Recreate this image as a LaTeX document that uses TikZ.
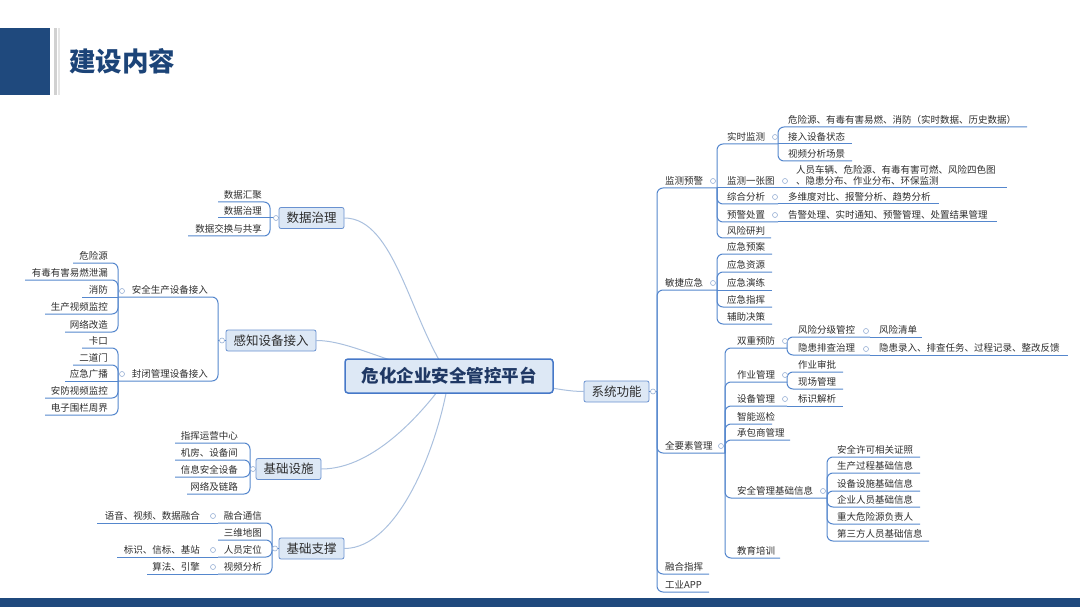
\documentclass[tikz,border=0pt]{standalone}
\usepackage{fontspec}
\setmainfont{Noto Sans CJK SC}
\usepackage{tikz}
\usepackage{xcolor}
\usetikzlibrary{backgrounds}
\definecolor{bar_blue}{RGB}{31, 73, 125}
\definecolor{title_blue}{RGB}{28, 68, 120}
\definecolor{box_fill}{RGB}{221, 232, 245}
\definecolor{box_line}{RGB}{105, 145, 208}
\definecolor{root_line}{RGB}{70, 120, 200}
\definecolor{root_text}{RGB}{31, 56, 100}
\definecolor{line_blue}{RGB}{85, 135, 205}
\definecolor{curve_blue}{RGB}{170, 192, 222}
\definecolor{dot_blue}{RGB}{150, 175, 212}
\definecolor{text_grey}{RGB}{45, 45, 45}

\tikzset{
  root/.style={draw=root_line, fill=box_fill, rounded corners=3pt, line width=1.5pt,
    font=\bfseries\fontsize{17.5}{20}\selectfont, text=root_text,
    minimum width=208pt, minimum height=34pt, inner sep=0pt},
  topic/.style={draw=box_line, fill=box_fill, rounded corners=2pt, line width=0.8pt,
    font=\fontsize{12.5}{14}\selectfont, text=text_grey,
    minimum height=21pt, inner xsep=7.5pt, inner ysep=0pt},
  leaf/.style={font=\fontsize{9.5}{11}\selectfont, text=text_grey, inner sep=0pt},
  br/.style={draw=line_blue, line width=1pt, rounded corners=6pt},
  link/.style={draw=curve_blue, line width=1pt},
  dot/.style={circle, draw=dot_blue, fill=white, line width=0.6pt, inner sep=0pt, minimum size=5pt}
}

% leaf to the right / to the left of its parent point
\newcommand{\leafR}[7][|-]{%
  \node[leaf, anchor=base west] (#3) at (#4,#6-3.5) {#7};
  \coordinate (#3-e) at (#5,#6);
  \draw[br] (#2) #1 (#3-e);}
\newcommand{\leafL}[7][|-]{%
  \node[leaf, anchor=base east] (#3) at (#4,#6-3.5) {#7};
  \coordinate (#3-e) at (#5,#6);
  \draw[br] (#2) #1 (#3-e);}

\begin{document}
\begin{tikzpicture}[x=1pt, y=-1pt]
\useasboundingbox (0,0) rectangle (1080,607);

% title and bars
\fill[bar_blue] (0,28) rectangle (50,95);
\fill[black!18] (54,28) rectangle (56.5,95);
\fill[black!10] (58,28) rectangle (60,95);
\node[anchor=west, inner sep=0pt, font=\bfseries\fontsize{26.5}{30}\selectfont, text=title_blue] (title) at (69,61) {建设内容};
\fill[bar_blue] (0,598) rectangle (1080,607);

% main topics
\node[root] (root) at (449,376) {危化企业安全管控平台};
\node[topic] (xtgn) at (616.5,391.5) {系统功能};
\node[topic] (sjzl) at (311.5,218) {数据治理};
\node[topic] (gzsb) at (271,340.5) {感知设备接入};
\node[topic] (jcss) at (288.5,469) {基础设施};
\node[topic] (jczc) at (311.5,548.5) {基础支撑};

% curves from the centre
\begin{scope}[on background layer]
\draw[link] (root.center) .. controls (410,320) and (395,218) .. (sjzl.east);
\draw[link] (root.center) .. controls (390,365) and (350,340.5) .. (gzsb.east);
\draw[link] (root.center) .. controls (425,410) and (375,469) .. (jcss.east);
\draw[link] (root.center) .. controls (440,440) and (400,548.5) .. (jczc.east);
\draw[link] (root.center) .. controls (530,380) and (555,391.5) .. (xtgn.west);
\end{scope}

% branch points of the main topics
\coordinate (xtgn-p) at (657,391.5);
\coordinate (sjzl-p) at (270,218);
\coordinate (gzsb-p) at (218,340.5);
\coordinate (jcss-p) at (250,469);
\coordinate (jczc-p) at (272,548.5);
\draw[br] (xtgn.east) -- (xtgn-p);
\draw[br] (sjzl.west) -- (sjzl-p);
\draw[br] (gzsb.west) -- (gzsb-p);
\draw[br] (jcss.west) -- (jcss-p);
\draw[br] (jczc.west) -- (jczc-p);

% system functions
\leafR{xtgn-p}{jcyj}{665}{717}{188}{监测预警}
\leafR{xtgn-p}{mjyj}{665}{717}{290}{敏捷应急}
\leafR{xtgn-p}{qys}{665}{725}{453}{全要素管理}
\leafR{xtgn-p}{rhzh}{665}{709}{574}{融合指挥}
\leafR{xtgn-p}{gyapp}{665}{709}{592}{工业APP}

% monitoring
\leafR{jcyj-e}{ssjc}{727}{778}{144}{实时监测}
\leafR[--]{jcyj-e}{jcyzt}{727}{783}{188}{监测一张图}
\leafR{jcyj-e}{zhfx}{727}{778}{204}{综合分析}
\leafR{jcyj-e}{yjcz}{727}{778}{222}{预警处置}
\leafR{jcyj-e}{fxyp}{727}{771}{238}{风险研判}
\leafR{ssjc-e}{ssjc-a}{788}{1027}{127}{危险源、有毒有害易燃、消防（实时数据、历史数据）}
\leafR[--]{ssjc-e}{ssjc-b}{788}{852}{144}{接入设备状态}
\leafR{ssjc-e}{ssjc-c}{788}{852}{161}{视频分析场景}
\node[leaf, anchor=base west, align=left] (jcyzt-a) at (796,185) {人员车辆、危险源、有毒有害可燃、风险四色图\\、隐患分布、作业分布、环保监测};
\coordinate (jcyzt-a-e) at (1007,188);
\draw[br] (jcyzt-e) -- (jcyzt-a-e);
\leafR[--]{zhfx-e}{zhfx-a}{788}{939}{204}{多维度对比、报警分析、趋势分析}
\leafR[--]{yjcz-e}{yjcz-a}{788}{997}{222}{告警处理、实时通知、预警管理、处置结果管理}

% emergency
\leafR{mjyj-e}{yjya}{727}{772}{254}{应急预案}
\leafR{mjyj-e}{yjzy}{727}{772}{272}{应急资源}
\leafR[--]{mjyj-e}{yjyl}{727}{772}{290}{应急演练}
\leafR{mjyj-e}{yjzh}{727}{772}{307}{应急指挥}
\leafR{mjyj-e}{fzjc}{727}{772}{324}{辅助决策}

% all-element management
\leafR{qys-e}{scyf}{737}{787}{348}{双重预防}
\leafR{qys-e}{zygl}{737}{787}{382}{作业管理}
\leafR{qys-e}{sbgl}{737}{787}{406}{设备管理}
\leafR{qys-e}{znxj}{737}{772}{424}{智能巡检}
\leafR{qys-e}{cbs}{737}{790}{440}{承包商管理}
\leafR{qys-e}{aqjc}{737}{827}{498}{安全管理基础信息}
\leafR{qys-e}{jypx}{737}{780}{558}{教育培训}
\leafR{scyf-e}{fxfj}{798}{870}{337}{风险分级管控}
\leafR{scyf-e}{yhpc}{798}{870}{355}{隐患排查治理}
\leafR[--]{fxfj-e}{fxqd}{879}{922}{337}{风险清单}
\leafR[--]{yhpc-e}{yhlr}{879}{1068}{355}{隐患录入、排查任务、过程记录、整改反馈}
\leafR{zygl-e}{zysp}{798}{843}{372}{作业审批}
\leafR{zygl-e}{xcgl}{798}{843}{389}{现场管理}
\leafR[--]{sbgl-e}{bsjx}{798}{843}{406}{标识解析}
\leafR{aqjc-e}{aq-a}{837}{920}{457}{安全许可相关证照}
\leafR{aqjc-e}{aq-b}{837}{920}{473}{生产过程基础信息}
\leafR{aqjc-e}{aq-c}{837}{920}{491}{设备设施基础信息}
\leafR{aqjc-e}{aq-d}{837}{920}{507}{企业人员基础信息}
\leafR{aqjc-e}{aq-f}{837}{920}{524}{重大危险源负责人}
\leafR{aqjc-e}{aq-g}{837}{929}{541}{第三方人员基础信息}

% data governance
\leafL{sjzl-p}{sjhj}{262}{218}{202}{数据汇聚}
\leafL[--]{sjzl-p}{sjzl-b}{262}{218}{218}{数据治理}
\leafL{sjzl-p}{sjjh}{262}{188}{236}{数据交换与共享}

% sensing devices
\leafL{gzsb-p}{aqsc}{208}{118}{297}{安全生产设备接入}
\leafL{gzsb-p}{fbgl}{208}{118}{381}{封闭管理设备接入}
\leafL{aqsc-e}{wxy}{108}{73}{263}{危险源}
\leafL{aqsc-e}{ydyh}{108}{25}{280}{有毒有害易燃泄漏}
\leafL[--]{aqsc-e}{xf}{108}{82}{297}{消防}
\leafL{aqsc-e}{scsp}{108}{45}{314}{生产视频监控}
\leafL{aqsc-e}{wlgz}{108}{65}{332}{网络改造}
\leafL{fbgl-e}{kk}{108}{82}{348}{卡口}
\leafL{fbgl-e}{edm}{108}{73}{365}{二道门}
\leafL[--]{fbgl-e}{yjgb}{108}{65}{381}{应急广播}
\leafL{fbgl-e}{afsp}{108}{45}{398}{安防视频监控}
\leafL{fbgl-e}{dzwl}{108}{45}{415}{电子围栏周界}

% infrastructure
\leafL{jcss-p}{zhyy}{238}{175}{443}{指挥运营中心}
\leafL{jcss-p}{jfsb}{238}{175}{460}{机房、设备间}
\leafL{jcss-p}{xxaq}{238}{175}{477}{信息安全设备}
\leafL{jcss-p}{wljl}{238}{187}{494}{网络及链路}

% basic support
\leafL{jczc-p}{rhtx}{262}{218}{523}{融合通信}
\leafL{jczc-p}{swdt}{262}{218}{540}{三维地图}
\leafL{jczc-p}{rydw}{262}{218}{557}{人员定位}
\leafL{jczc-p}{spfx}{262}{218}{574}{视频分析}
\leafL[--]{rhtx-e}{yysp}{200}{97}{523}{语音、视频、数据融合}
\leafL[--]{rydw-e}{bsxb}{200}{117}{557}{标识、信标、基站}
\leafL[--]{spfx-e}{sfyq}{200}{147}{574}{算法、引擎}

% fold markers
\foreach \x/\y [count=\i] in {653/391.5, 713/181, 713/283, 721/446, 775/137, 785/181,
  775/197, 775/215, 785/341, 866/331, 866/349, 785/375, 785/399, 823/491,
  276/218, 222/340.5, 122/291, 122/374, 253/469, 275/548.5, 213/516, 213/550, 213/567}
  \node[dot] (o\i) at (\x,\y) {};
\end{tikzpicture}
\end{document}
